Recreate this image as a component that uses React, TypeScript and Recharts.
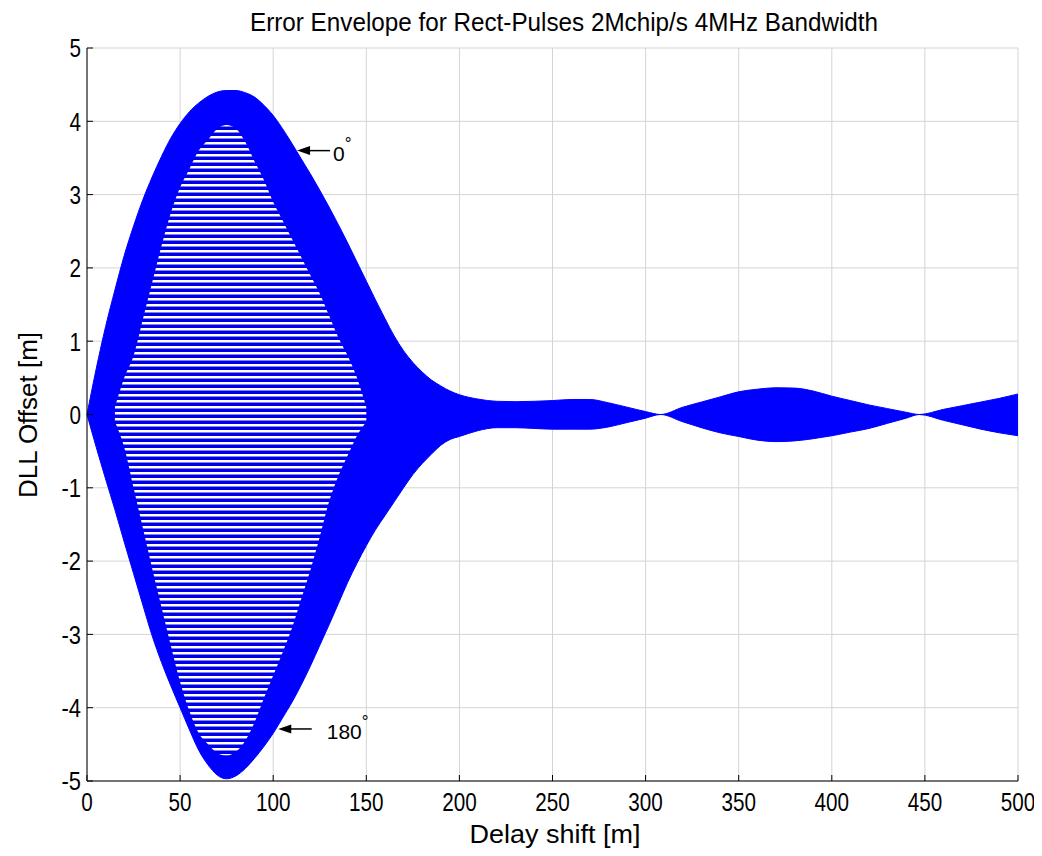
import React from 'react';
import { ComposedChart, Area, XAxis, YAxis, CartesianGrid, ReferenceLine } from 'recharts';

// delay shift [m] sample points
const delayShift = [
  0, 5, 10, 15, 20, 25, 30, 35, 40, 45, 50, 55, 60, 65, 70, 75, 80, 85, 90, 95, 100,
  105, 110, 115, 120, 125, 130, 135, 140, 145, 150, 155, 160, 165, 170, 175, 180, 185, 190, 195, 200,
  210, 220, 230, 240, 250, 260, 270, 280, 290, 300, 308,
  320, 330, 340, 350, 360, 370, 380, 390, 400, 410, 420, 430, 440, 447,
  460, 470, 480, 490, 500,
];

// 0 deg curve (upper edge of envelope)
const upperEnvelope = [
  0, 0.63, 1.2, 1.7, 2.17, 2.57, 2.93, 3.24, 3.52, 3.77, 3.97, 4.13, 4.25, 4.34, 4.4, 4.42, 4.42, 4.39, 4.33, 4.22, 4.08,
  3.9, 3.7, 3.49, 3.28, 3.06, 2.83, 2.59, 2.34, 2.08, 1.82, 1.56, 1.31, 1.07, 0.87, 0.71, 0.58, 0.47, 0.39, 0.32, 0.27,
  0.21, 0.18, 0.175, 0.18, 0.19, 0.205, 0.205, 0.16, 0.1, 0.04, 0,
  0.1, 0.17, 0.24, 0.31, 0.345, 0.365, 0.36, 0.32, 0.25, 0.19, 0.13, 0.08, 0.03, 0,
  0.07, 0.12, 0.17, 0.22, 0.28,
];

// 180 deg curve (lower edge of envelope)
const lowerEnvelope = [
  0, -0.45, -0.88, -1.3, -1.74, -2.17, -2.6, -3.02, -3.38, -3.7, -4.0, -4.3, -4.58, -4.78, -4.92, -4.97, -4.93, -4.83, -4.69, -4.53, -4.35,
  -4.14, -3.93, -3.69, -3.43, -3.15, -2.87, -2.58, -2.29, -2.03, -1.79, -1.57, -1.38, -1.19, -1.0, -0.82, -0.67, -0.54, -0.42, -0.34, -0.3,
  -0.22, -0.18, -0.18, -0.19, -0.2, -0.2, -0.2, -0.17, -0.11, -0.05, 0,
  -0.1, -0.18, -0.25, -0.3, -0.35, -0.37, -0.36, -0.33, -0.29, -0.24, -0.19, -0.12, -0.05, 0,
  -0.08, -0.14, -0.2, -0.25, -0.29,
];

// region where the individual phase curves separate (white gaps visible)
const stripedUpper = [
  null, null, null, 0.1, 0.5, 0.8, 1.3, 1.8, 2.3, 2.75, 3.1, 3.35, 3.6, 3.75, 3.9, 3.95, 3.9, 3.72, 3.45, 3.2, 2.9,
  2.65, 2.4, 2.15, 1.9, 1.65, 1.35, 1.05, 0.8, 0.5, 0.1, null, null, null, null, null, null, null, null, null, null,
  null, null, null, null, null, null, null, null, null, null, null,
  null, null, null, null, null, null, null, null, null, null, null, null, null, null,
  null, null, null, null, null,
];

const stripedLower = [
  null, null, null, -0.1, -0.45, -1.0, -1.55, -2.1, -2.63, -3.15, -3.65, -4.05, -4.35, -4.5, -4.62, -4.65, -4.6, -4.45, -4.2, -3.87, -3.56,
  -3.25, -2.92, -2.52, -2.12, -1.67, -1.19, -0.84, -0.56, -0.29, -0.1, null, null, null, null, null, null, null, null, null, null,
  null, null, null, null, null, null, null, null, null, null, null,
  null, null, null, null, null, null, null, null, null, null, null, null, null, null,
  null, null, null, null, null,
];

const xTicks = [0, 50, 100, 150, 200, 250, 300, 350, 400, 450, 500];
const yTicks = [-5, -4, -3, -2, -1, 0, 1, 2, 3, 4, 5];

const chartData = delayShift.map((x, i) => ({
  x,
  envelope: [lowerEnvelope[i], upperEnvelope[i]],
  striped: stripedUpper[i] == null ? null : [stripedLower[i], stripedUpper[i]],
}));

const FONT = "'Liberation Sans', Arial, sans-serif";

// the original labels are condensed, squeeze them to the measured width
const labelWidth = (s: string) =>
  s.split('').reduce((w, c) => w + (c === '-' ? 8 : 11.5), 0);

const NarrowTick = (props: any) => {
  const { x, y, payload, side } = props;
  const s = String(payload.value);
  const isLeft = side === 'left';
  return (
    <text
      x={x}
      y={y}
      dy={isLeft ? '0.36em' : '0.72em'}
      textAnchor={isLeft ? 'end' : 'middle'}
      fontSize={26}
      fontFamily={FONT}
      fill="#000"
      textLength={labelWidth(s)}
      lengthAdjust="spacingAndGlyphs"
    >
      {s}
    </text>
  );
};

const arrowShape = (label: string, textGap: number) => (props: any) => {
  const { x1, y1, x2 } = props;
  const tip = Math.min(x1, x2);
  const tail = Math.max(x1, x2);
  return (
    <g>
      <line x1={tip + 9} y1={y1} x2={tail} y2={y1} stroke="#000" strokeWidth={1.5} />
      <polygon points={`${tip},${y1} ${tip + 13},${y1 - 4.5} ${tip + 13},${y1 + 4.5}`} fill="#000" />
      <text x={tail + textGap} y={y1 + 10} fontSize={21} fontFamily={FONT} fill="#000">
        {label}
        <tspan dy={-12} fontSize={17}>°</tspan>
      </text>
    </g>
  );
};

export default function App() {
  return (
    <div style={{ position: 'relative', width: 1034, height: 840 }}>
      <ComposedChart
        width={1034}
        height={840}
        data={chartData}
        margin={{ top: 40, right: 24, left: 19, bottom: 17 }}
      >
        <defs>
          <pattern id="phaseStripes" patternUnits="userSpaceOnUse" width={8} height={6}>
            <rect x={0} y={0} width={8} height={6} fill="#0000e6" />
            <rect x={0} y={2} width={8} height={2.5} fill="#ffffff" />
          </pattern>
        </defs>
        <CartesianGrid stroke="#d4d4d4" vertical horizontal />
        <XAxis
          type="number"
          dataKey="x"
          domain={[0, 500]}
          ticks={xTicks}
          height={50}
          tickSize={-6}
          tickMargin={17}
          tick={<NarrowTick side="bottom" />}
          axisLine={{ stroke: '#000' }}
          tickLine={{ stroke: '#000' }}
          interval={0}
        />
        <XAxis
          xAxisId="top"
          orientation="top"
          type="number"
          dataKey="x"
          domain={[0, 500]}
          ticks={xTicks}
          height={0}
          tickSize={-6}
          tickFormatter={() => ''}
          axisLine={{ stroke: '#000' }}
          tickLine={{ stroke: '#000' }}
        />
        <YAxis
          type="number"
          domain={[-5, 5]}
          ticks={yTicks}
          width={60}
          tickSize={-6}
          tickMargin={12}
          tick={<NarrowTick side="left" />}
          axisLine={{ stroke: '#000' }}
          tickLine={{ stroke: '#000' }}
          interval={0}
        />
        <YAxis
          yAxisId="right"
          orientation="right"
          type="number"
          domain={[-5, 5]}
          ticks={yTicks}
          width={0}
          tickSize={-6}
          tickFormatter={() => ''}
          axisLine={{ stroke: '#000' }}
          tickLine={{ stroke: '#000' }}
        />
        <Area
          type="monotone"
          dataKey="envelope"
          stroke="#0000ff"
          strokeWidth={1}
          fill="#0000ff"
          fillOpacity={1}
          isAnimationActive={false}
          dot={false}
          activeDot={false}
        />
        <Area
          type="monotone"
          dataKey="striped"
          stroke="none"
          fill="url(#phaseStripes)"
          fillOpacity={1}
          isAnimationActive={false}
          dot={false}
          activeDot={false}
        />
        <ReferenceLine
          segment={[{ x: 112.8, y: 3.6 }, { x: 130.5, y: 3.6 }]}
          shape={arrowShape('0', 3)}
        />
        <ReferenceLine
          segment={[{ x: 102.7, y: -4.29 }, { x: 120.7, y: -4.29 }]}
          shape={arrowShape('180', 15)}
        />
      </ComposedChart>
      <svg
        width={1034}
        height={840}
        style={{ position: 'absolute', left: 0, top: 0, pointerEvents: 'none' }}
      >
        <text x={556} y={23} textAnchor="middle" fontSize={25} fontFamily={FONT} fill="#000"
          textLength={628} lengthAdjust="spacingAndGlyphs">
          Error Envelope for Rect-Pulses 2Mchip/s 4MHz Bandwidth
        </text>
        <text x={547} y={835} textAnchor="middle" fontSize={26} fontFamily={FONT} fill="#000"
          textLength={171} lengthAdjust="spacingAndGlyphs">
          Delay shift [m]
        </text>
        <text x={29} y={407} textAnchor="middle" fontSize={26} fontFamily={FONT} fill="#000"
          transform="rotate(-90 29 407)" textLength={166} lengthAdjust="spacingAndGlyphs">
          DLL Offset [m]
        </text>
      </svg>
    </div>
  );
}
